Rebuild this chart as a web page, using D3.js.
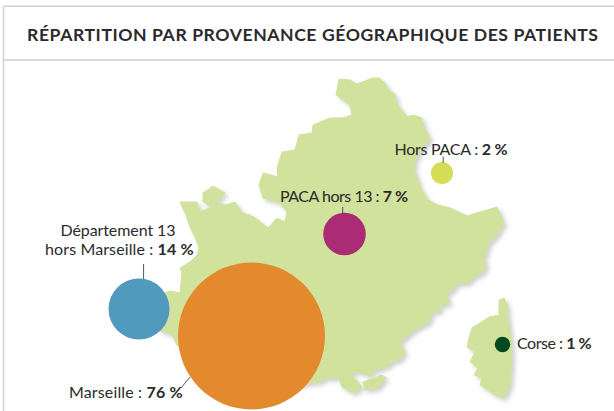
<!DOCTYPE html>
<html lang="fr">
<head>
<meta charset="utf-8">
<script src="https://cdn.jsdelivr.net/npm/d3@7"></script>
<style>
html,body{margin:0;padding:0;background:#fff}
svg{display:block}
text{font-family:"Lato",sans-serif;fill:#2b2a2c}
</style>
</head>
<body>
<div id="chart"></div>
<script>
const titleText = "RÉPARTITION PAR PROVENANCE GÉOGRAPHIQUE DES PATIENTS";
const regions = ["Marseille","Département 13 hors Marseille","PACA hors 13","Hors PACA","Corse"];
const shares = [76,14,7,2,1];
const regionX = [251.5,139,344.5,442,502.5];
const regionY = [336,309,234,173,344.5];
const regionColors = ["#e38a2f","#4f9abd","#ab2b74","#d5dc56","#004a20"];

const labelLines = [
  [{t:"Marseille : ",b:"76 %",w:113.5}],
  [{t:"Département 13",b:"",w:115},{t:"hors Marseille : ",b:"14 %",w:148.5}],
  [{t:"PACA hors 13 : ",b:"7 %",w:128}],
  [{t:"Hors PACA : ",b:"2 %",w:113}],
  [{t:"Corse : ",b:"1 %",w:74.5}]
];
const labelAnchorX = [182.5,193.5,408,507.5,591.5];
const labelAnchorY = [398,236,202,155,349];
const leaderFrom = [[190,377],[143.6,264],[342.7,207],[443.2,156.5],null];
const leaderTo = [[181,388],[143.6,279],[342.7,214],[443.2,163],null];

const mainland = [[339,79],[350,80],[357,84],[365,81],[372,78],[379,78],[385,83],[389,91],[395,94],[397,104],[407,117],[413,115],[422,118],[424,127],[430,138],[427,143],[421,150],[415,160],[414,170],[417,177],[420,187],[428,200],[438,205],[450,208],[467,216],[480,212],[497,207],[504,223],[497,235],[489,243],[484,258],[486,267],[482,273],[475,276],[468,283],[457,284],[452,291],[447,293],[449,304],[441,305],[439,312],[432,312],[429,322],[414,330],[400,342],[405,352],[400,360],[390,362],[390,365],[372,372],[370,376],[358,372],[350,373],[362,387],[353,393],[342,387],[338,377],[330,379],[327,377],[320,382],[309,383],[250,395],[177,345],[173,337],[170,333],[162,332],[150,320],[160,295],[170,291],[180,293],[182,273],[180,268],[190,262],[197,255],[199,248],[195,237],[190,227],[186,215],[180,202],[197,202],[200,212],[220,203],[225,205],[235,202],[242,213],[250,215],[258,220],[268,228],[277,218],[285,222],[287,212],[280,203],[263,198],[259,185],[263,173],[278,177],[277,168],[282,152],[295,150],[299,135],[312,133],[313,125],[330,118],[342,118],[352,115],[350,105],[336,95]];
const enclave = [[203,193],[213,186],[225,193],[212,207],[203,202]];
const islet = [[363,382],[382,375],[386,378],[378,388],[365,390]];
const corsica = [[499,300],[504,298],[507,305],[508,317],[511,338],[512,355],[510,385],[504,398],[495,395],[480,385],[482,378],[474,375],[478,368],[470,362],[475,352],[467,347],[469,338],[472,328],[489,317],[499,315]];

const width = 614, height = 411;
const x = d3.scaleLinear().domain([0,614]).range([0,width]);
const y = d3.scaleLinear().domain([0,411]).range([0,height]);
const r = d3.scalePow().exponent(0.52).domain([0,76]).range([0,73.5]);

const svg = d3.select("#chart").append("svg").attr("width",width).attr("height",height);

const defs = svg.append("defs");
const f = defs.append("filter").attr("id","shade").attr("x","-10%").attr("y","-10%").attr("width","125%").attr("height","125%");
f.append("feDropShadow").attr("dx",3).attr("dy",3).attr("stdDeviation",2).attr("flood-color","#999").attr("flood-opacity",0.45);

// frame
const frame = svg.append("g").attr("stroke","#d2d2d2").attr("stroke-width",1.5);
frame.append("line").attr("x1",3.5).attr("x2",width).attr("y1",6.2).attr("y2",6.2);
frame.append("line").attr("x1",3.5).attr("x2",width).attr("y1",60).attr("y2",60);
frame.append("line").attr("x1",3.5).attr("x2",3.5).attr("y1",6).attr("y2",height);

svg.append("text").attr("x",27).attr("y",41).attr("font-size",17.6).attr("font-weight",700)
  .attr("textLength",571).attr("lengthAdjust","spacing").text(titleText);

// map
const line = d3.line().x(d=>x(d[0])).y(d=>y(d[1])).curve(d3.curveLinearClosed);
svg.append("g").attr("filter","url(#shade)").selectAll("path")
  .data([mainland,enclave,islet,corsica]).join("path")
  .attr("d",line).attr("fill","#d1e29d").attr("stroke","#d1e29d").attr("stroke-width",1).attr("stroke-linejoin","round");

// bubbles
svg.append("g").selectAll("circle").data(regions).join("circle")
  .attr("cx",(d,i)=>x(regionX[i])).attr("cy",(d,i)=>y(regionY[i]))
  .attr("r",(d,i)=>r(shares[i])).attr("fill",(d,i)=>regionColors[i]);

// leaders
svg.append("g").selectAll("line").data(regions.map((d,i)=>i).filter(i=>leaderFrom[i])).join("line")
  .attr("x1",i=>x(leaderFrom[i][0])).attr("y1",i=>y(leaderFrom[i][1]))
  .attr("x2",i=>x(leaderTo[i][0])).attr("y2",i=>y(leaderTo[i][1]))
  .attr("stroke","#2b2a2c").attr("stroke-width",0.8);

// labels
regions.forEach((name,i)=>{
  const lines = labelLines[i];
  lines.forEach((ln,j)=>{
    const right = x(labelAnchorX[i]) - (lines.length>1&&j===0?18:0);
    const tx = svg.append("text").attr("x",right - ln.w)
      .attr("y",y(labelAnchorY[i])+j*19).attr("font-size",16)
      .attr("textLength",ln.w).attr("lengthAdjust","spacing");
    tx.append("tspan").text(ln.t);
    if(ln.b) tx.append("tspan").attr("font-weight",700).text(ln.b);
  });
});
</script>
</body>
</html>
